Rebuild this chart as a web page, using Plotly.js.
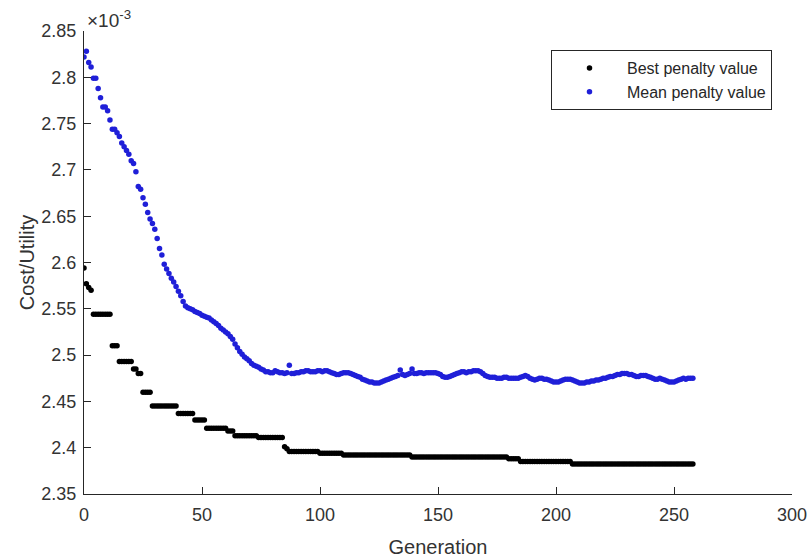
<!DOCTYPE html>
<html>
<head>
<meta charset="utf-8">
<script src="https://cdn.plot.ly/plotly-3.0.1.min.js"></script>
<style>
html,body{margin:0;padding:0;background:#fff;}
#chart{width:808px;height:558px;}
</style>
</head>
<body>
<div id="chart"></div>
<script>
// Values are in units of 1e-3 (axis shows "x10^-3")
const bestPenalty = [
2.594,2.577,2.573,2.570,2.544,2.544,2.544,2.544,2.544,2.544,
2.544,2.544,2.510,2.510,2.510,2.493,2.493,2.493,2.493,2.493,
2.493,2.485,2.485,2.480,2.480,2.460,2.460,2.460,2.460,2.445,
2.445,2.445,2.445,2.445,2.445,2.445,2.445,2.445,2.445,2.445,
2.437,2.437,2.437,2.437,2.437,2.437,2.437,2.430,2.430,2.430,
2.430,2.430,2.421,2.421,2.421,2.421,2.421,2.421,2.421,2.421,
2.421,2.418,2.418,2.418,2.413,2.413,2.413,2.413,2.413,2.413,
2.413,2.413,2.413,2.413,2.411,2.411,2.411,2.411,2.411,2.411,
2.411,2.411,2.411,2.411,2.411,2.401,2.399,2.396,2.396,2.396,
2.396,2.396,2.396,2.396,2.396,2.396,2.396,2.396,2.396,2.396,
2.394,2.394,2.394,2.394,2.394,2.394,2.394,2.394,2.394,2.394,
2.392,2.392,2.392,2.392,2.392,2.392,2.392,2.392,2.392,2.392,
2.392,2.392,2.392,2.392,2.392,2.392,2.392,2.392,2.392,2.392,
2.392,2.392,2.392,2.392,2.392,2.392,2.392,2.392,2.392,2.390,
2.390,2.390,2.390,2.390,2.390,2.390,2.390,2.390,2.390,2.390,
2.390,2.390,2.390,2.390,2.390,2.390,2.390,2.390,2.390,2.390,
2.390,2.390,2.390,2.390,2.390,2.390,2.390,2.390,2.390,2.390,
2.390,2.390,2.390,2.390,2.390,2.390,2.390,2.390,2.390,2.390,
2.388,2.388,2.388,2.388,2.388,2.385,2.385,2.385,2.385,2.385,
2.385,2.385,2.385,2.385,2.385,2.385,2.385,2.385,2.385,2.385,
2.385,2.385,2.385,2.385,2.385,2.385,2.385,2.3825,2.3825,2.3825,
2.3825,2.3825,2.3825,2.3825,2.3825,2.3825,2.3825,2.3825,2.3825,2.3825,
2.3825,2.3825,2.3825,2.3825,2.3825,2.3825,2.3825,2.3825,2.3825,2.3825,
2.3825,2.3825,2.3825,2.3825,2.3825,2.3825,2.3825,2.3825,2.3825,2.3825,
2.3825,2.3825,2.3825,2.3825,2.3825,2.3825,2.3825,2.3825,2.3825,2.3825,
2.3825,2.3825,2.3825,2.3825,2.3825,2.3825,2.3825,2.3825,2.3825
];

const meanPenalty = [
2.822,2.828,2.816,2.811,2.799,2.799,2.788,2.778,2.768,2.768,
2.764,2.754,2.744,2.744,2.740,2.736,2.729,2.725,2.721,2.717,
2.710,2.707,2.698,2.682,2.679,2.670,2.663,2.654,2.647,2.642,
2.636,2.626,2.615,2.608,2.598,2.593,2.588,2.583,2.579,2.574,
2.569,2.564,2.558,2.553,2.551,2.550,2.549,2.547,2.546,2.545,
2.543,2.542,2.541,2.540,2.538,2.536,2.534,2.532,2.529,2.527,
2.525,2.523,2.520,2.517,2.512,2.508,2.504,2.501,2.498,2.496,
2.494,2.491,2.489,2.488,2.487,2.485,2.484,2.482,2.482,2.481,
2.481,2.483,2.482,2.481,2.481,2.480,2.481,2.489,2.480,2.480,
2.481,2.481,2.482,2.482,2.483,2.483,2.482,2.482,2.482,2.483,
2.483,2.482,2.483,2.483,2.482,2.481,2.480,2.479,2.479,2.480,
2.481,2.481,2.481,2.480,2.479,2.478,2.477,2.476,2.474,2.473,
2.472,2.471,2.471,2.470,2.470,2.470,2.471,2.472,2.473,2.474,
2.475,2.476,2.477,2.478,2.484,2.479,2.478,2.479,2.480,2.485,
2.480,2.480,2.481,2.481,2.480,2.481,2.481,2.481,2.481,2.481,
2.480,2.479,2.477,2.476,2.476,2.477,2.478,2.479,2.480,2.481,
2.482,2.482,2.481,2.482,2.482,2.483,2.483,2.483,2.482,2.480,
2.478,2.477,2.476,2.476,2.476,2.475,2.475,2.475,2.476,2.476,
2.475,2.475,2.475,2.475,2.475,2.476,2.477,2.478,2.477,2.475,
2.474,2.473,2.474,2.475,2.475,2.474,2.474,2.473,2.472,2.471,
2.471,2.471,2.472,2.473,2.474,2.474,2.474,2.473,2.472,2.471,
2.470,2.470,2.470,2.471,2.471,2.472,2.472,2.473,2.473,2.474,
2.475,2.475,2.476,2.477,2.477,2.478,2.479,2.479,2.480,2.480,
2.480,2.479,2.479,2.478,2.477,2.477,2.478,2.478,2.478,2.477,
2.476,2.475,2.474,2.474,2.475,2.474,2.473,2.472,2.471,2.471,
2.471,2.472,2.473,2.474,2.475,2.474,2.475,2.475,2.475
];

const seriesNames = ['Best penalty value', 'Mean penalty value'];
const xTicks = [0, 50, 100, 150, 200, 250, 300];
const yTicks = [2.35, 2.4, 2.45, 2.5, 2.55, 2.6, 2.65, 2.7, 2.75, 2.8, 2.85];
const yTickText = ['2.35', '2.4', '2.45', '2.5', '2.55', '2.6', '2.65', '2.7', '2.75', '2.8', '2.85'];

const generations = bestPenalty.map((_, i) => i);
const FONT = 'Liberation Sans, Arial, Helvetica, sans-serif';
const AX = '#262626';

const traces = [
  {x: generations, y: bestPenalty, name: seriesNames[0], type: 'scatter', mode: 'markers',
   marker: {color: '#000000', size: 5.5}},
  {x: generations, y: meanPenalty, name: seriesNames[1], type: 'scatter', mode: 'markers',
   marker: {color: '#1f1fd8', size: 5.5}}
];

const layout = {
  width: 808, height: 558,
  margin: {l: 84, r: 16, t: 31, b: 64},
  paper_bgcolor: '#ffffff', plot_bgcolor: '#ffffff',
  font: {family: FONT, color: AX, size: 17},
  showlegend: true,
  legend: {
    x: 0.6596, y: 0.959, xanchor: 'left', yanchor: 'top',
    bgcolor: '#ffffff', bordercolor: AX, borderwidth: 1,
    font: {family: FONT, size: 16, color: '#262626'},
    itemwidth: 65
  },
  xaxis: {
    range: [0, 300], tickvals: xTicks, ticktext: xTicks.map(String),
    showline: true, linecolor: AX, linewidth: 1, mirror: false,
    ticks: 'inside', ticklen: 7, tickcolor: AX, tickwidth: 1,
    showgrid: false, zeroline: false, ticklabelstandoff: 4,
    tickfont: {family: FONT, size: 18, color: '#333'},
    title: {text: 'Generation', font: {family: FONT, size: 20, color: '#333'}}
  },
  yaxis: {
    range: [2.35, 2.85], tickvals: yTicks, ticktext: yTickText,
    showline: true, linecolor: AX, linewidth: 1, mirror: false,
    ticks: 'inside', ticklen: 7, tickcolor: AX, tickwidth: 1,
    showgrid: false, zeroline: false, ticklabelstandoff: 3,
    tickfont: {family: FONT, size: 18, color: '#333'},
    title: {text: 'Cost/Utility', font: {family: FONT, size: 20, color: '#333'}}
  },
  annotations: [{
    xref: 'paper', yref: 'paper', x: 0, y: 1, xanchor: 'left', yanchor: 'bottom',
    xshift: 1, yshift: -2,
    text: '×10<sup>-3</sup>', showarrow: false,
    font: {family: FONT, size: 19, color: '#333'}
  }]
};

Plotly.newPlot('chart', traces, layout, {displayModeBar: false, staticPlot: true});
</script>
</body>
</html>
